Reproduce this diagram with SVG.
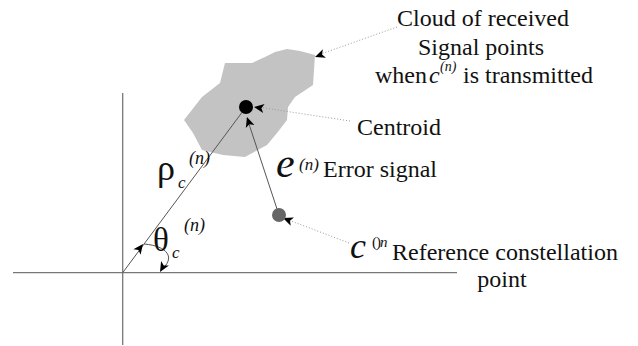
<svg xmlns="http://www.w3.org/2000/svg" xmlns:xlink="http://www.w3.org/1999/xlink" width="638" height="346" viewBox="0 0 638 346">
  <defs>
    <style>
      .axis { stroke: #777; stroke-width: 1.3; fill: none; }
      .vec { stroke: #555; stroke-width: 1; fill: none; }
      .lead { stroke: #999; stroke-width: 1; stroke-dasharray: 1 2; fill: none; }
      .lbl text { font-family: 'Liberation Serif', 'DejaVu Serif', serif; font-size: 24px; fill: #111; }
      .lbl .it { font-style: italic; }
      .ah { fill: #000; }
    </style>
    <!-- arrowhead, tip at the origin, pointing along +x -->
    <path id="ah" class="ah" d="M0,0 L-10,-4.5 L-7.5,0 L-10,4.5 Z"/>
  </defs>

  <!-- coordinate axes -->
  <g id="axes">
    <line class="axis" x1="122.7" y1="93" x2="122.7" y2="345"/>
    <line class="axis" x1="13" y1="272.7" x2="457" y2="272.7"/>
  </g>

  <!-- cloud of received points -->
  <g id="cloud">
    <path d="M315,55 L300,51 L287,49 L275,52 L265,57 L252,63 L225,63 L220,83 L202,97 L184,120 L193,133 L202,150 L223,155 L245,157 L267,145 L277,133 L287,120 L288,107 L295,97 L313,85 Z" fill="#c3c3c3"/>
  </g>

  <g id="connectors">
    <!-- rho vector from origin to centroid -->
    <line class="vec" x1="122.7" y1="272.7" x2="246" y2="107"/>
    <!-- error vector from reference point to centroid -->
    <line class="vec" x1="279" y1="215" x2="247" y2="118"/>
    <use xlink:href="#ah" transform="translate(247,117) rotate(-108)"/>
    <!-- theta angle arc -->
    <path class="vec" d="M144,244 C168,246 176,258 161,270"/>
    <use xlink:href="#ah" transform="translate(143,244) rotate(-53)"/>
    <use xlink:href="#ah" transform="translate(160,272) rotate(120)"/>
    <!-- dotted leaders -->
    <line class="lead" x1="397" y1="27" x2="318" y2="55"/>
    <use xlink:href="#ah" transform="translate(315,57) rotate(160)"/>
    <line class="lead" x1="350" y1="121" x2="258" y2="107"/>
    <use xlink:href="#ah" transform="translate(254,107) rotate(189)"/>
    <line class="lead" x1="349" y1="243" x2="286" y2="219"/>
    <use xlink:href="#ah" transform="translate(283,218) rotate(201)"/>
  </g>

  <!-- centroid and reference constellation point -->
  <g id="centroid">
    <circle cx="246" cy="107" r="7" fill="#000"/>
  </g>
  <g id="reference-point">
    <circle cx="279" cy="215" r="7" fill="#666"/>
  </g>

  <!-- labels -->
  <g id="cloud-label" class="lbl">
    <text x="483" y="26" text-anchor="middle">Cloud of received</text>
    <text x="481" y="55" text-anchor="middle">Signal points</text>
    <text x="375" y="83">when</text>
    <text x="429" y="83" class="it">c</text>
    <text x="440" y="71" class="it" style="font-size:14px">(n)</text>
    <text x="463" y="83">is transmitted</text>
  </g>
  <g id="centroid-label" class="lbl">
    <text x="357" y="135">Centroid</text>
  </g>
  <g id="error-label" class="lbl">
    <text x="276" y="177" class="it" style="font-size:42px">e</text>
    <text x="299" y="170" class="it" style="font-size:17px">(n)</text>
    <text x="323" y="177">Error signal</text>
  </g>
  <g id="reference-label" class="lbl">
    <text x="350" y="258" class="it" style="font-size:36px">c</text>
    <text x="372" y="247" style="font-size:15px" letter-spacing="-1">()<tspan class="it">n</tspan></text>
    <text x="392" y="260">Reference constellation</text>
    <text x="502" y="287" text-anchor="middle">point</text>
  </g>
  <g id="rho-label" class="lbl">
    <text x="157" y="180" style="font-size:36px">ρ</text>
    <text x="178" y="188" class="it" style="font-size:17px">c</text>
    <text x="189" y="164" class="it" style="font-size:18px">(n)</text>
  </g>
  <g id="theta-label" class="lbl">
    <text x="153" y="251" style="font-size:33px">θ</text>
    <text x="172" y="258" class="it" style="font-size:17px">c</text>
    <text x="184" y="231" class="it" style="font-size:18px">(n)</text>
  </g>
</svg>
